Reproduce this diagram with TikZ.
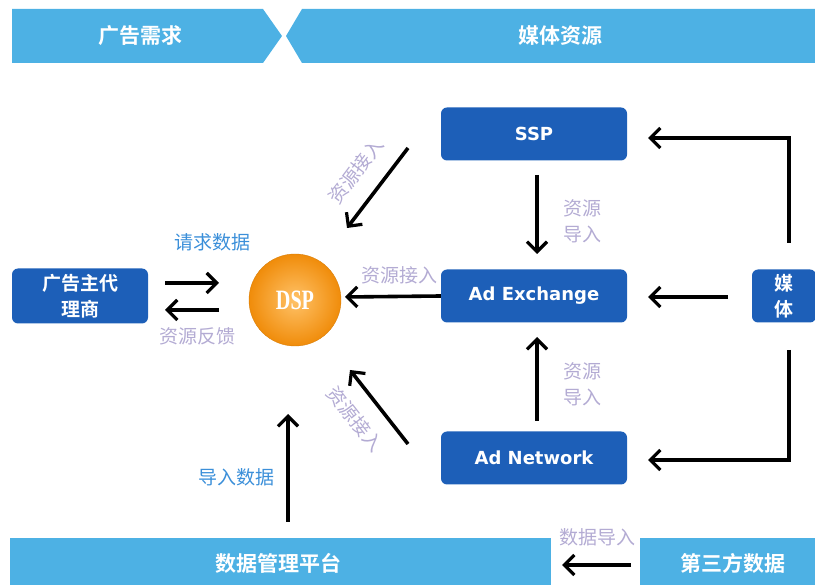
\documentclass[tikz,border=0pt]{standalone}
\usepackage{fontspec}
\setmainfont{Noto Sans CJK SC}
\newfontfamily\cjkb{Noto Sans CJK SC Bold}
\newfontfamily\latb{DejaVu Sans}
\newfontfamily\serifb{Liberation Serif}
\usetikzlibrary{arrows.meta,shapes.geometric,shadows}
\definecolor{banner}{HTML}{4DB1E4}
\definecolor{boxblue}{HTML}{1D5FB8}
\definecolor{lblpurple}{HTML}{B3ABD3}
\definecolor{lblblue}{HTML}{3B8FD9}
\definecolor{dspin}{HTML}{FFC268}
\definecolor{dspout}{HTML}{F08C0A}
\tikzset{
  bluebox/.style={fill=boxblue, rounded corners=6pt, text=white, font=\cjkb\fontsize{19}{26}\selectfont, align=center, inner sep=0pt},
  latbox/.style={bluebox, font=\latb\bfseries\fontsize{18}{21}\selectfont},
  bannertext/.style={text=white, font=\cjkb\fontsize{21}{24}\selectfont},
  arr/.style={draw=black, line width=3.6pt, -{Straight Barb[length=10pt,width=20pt,line width=3.2pt]}},
  plbl/.style={text=lblpurple, font=\fontsize{19}{26}\selectfont, inner sep=0pt},
  blbl/.style={text=lblblue, font=\fontsize{19}{26}\selectfont, inner sep=0pt},
}
\begin{document}
\begin{tikzpicture}[x=1pt,y=-1pt]
\useasboundingbox (0,0) rectangle (815,585);
% top banners
\fill[banner] (12,9) -- (263,9) -- (282,36) -- (263,63) -- (12,63) -- cycle;
\fill[banner] (302,9) -- (815,9) -- (815,63) -- (302,63) -- (286,36) -- cycle;
\node[bannertext] (bL) at (140,36) {广告需求};
\node[bannertext] (bR) at (560,36) {媒体资源};
% bottom bars
\fill[banner] (10,538) rectangle (551,585);
\fill[banner] (640,538) rectangle (815,585);
\node[bannertext] (dmp) at (278,563) {数据管理平台};
\node[bannertext] (third) at (733,563) {第三方数据};
% boxes
\node[latbox, minimum width=186pt, minimum height=53pt] (ssp) at (534,134) {SSP};
\node[latbox, minimum width=186pt, minimum height=53pt] (adx) at (534,296) {Ad Exchange};
\node[latbox, minimum width=186pt, minimum height=53pt] (adn) at (534,458) {Ad Network};
\node[bluebox, minimum width=64pt, minimum height=53pt] (media) at (784,296) {媒\\体};
\node[bluebox, minimum width=136pt, minimum height=55pt] (agent) at (80,296) {广告主代\\理商};
% DSP
\node[circle, minimum size=92pt, inner sep=0pt, shading=radial, inner color=dspin, outer color=dspout, draw=dspout!90!black, line width=0.4pt, text=white, font=\serifb\bfseries\fontsize{28}{30}\selectfont] (dsp) at (295,300) {\scalebox{0.72}[1]{DSP}};
% coordinates
\coordinate (a1s) at (165,283); \coordinate (a1e) at (219,283);
\coordinate (a2s) at (219,310); \coordinate (a2e) at (165,310);
\coordinate (sspd) at (408,148); \coordinate (sspde) at (347,228);
\coordinate (adnd) at (408,444); \coordinate (adnde) at (350,370);
\coordinate (adxe) at (345,297);
\coordinate (v1s) at (537,175); \coordinate (v1e) at (537,254);
\coordinate (v2s) at (537,421); \coordinate (v2e) at (537,337);
\coordinate (m1s) at (789,243); \coordinate (m1c) at (789,138); \coordinate (m1e) at (648,138);
\coordinate (m2s) at (728,297); \coordinate (m2e) at (648,297);
\coordinate (m3s) at (789,350); \coordinate (m3c) at (789,460); \coordinate (m3e) at (648,460);
\coordinate (ups) at (288,522); \coordinate (upe) at (288,414);
\coordinate (ts) at (631,565); \coordinate (te) at (562,565);
% arrows
\draw[arr] (a1s) -- (a1e);
\draw[arr] (a2s) -- (a2e);
\draw[arr] (adx.west) -- (adxe);
\draw[arr] (sspd) -- (sspde);
\draw[arr] (adnd) -- (adnde);
\draw[arr] (v1s) -- (v1e);
\draw[arr] (v2s) -- (v2e);
\draw[arr] (m1s) -- (m1c) -- (m1e);
\draw[arr] (m2s) -- (m2e);
\draw[arr] (m3s) -- (m3c) -- (m3e);
\draw[arr] (ups) -- (upe);
\draw[arr] (ts) -- (te);
% labels
\node[blbl] (l1) at (212,242) {请求数据};
\node[plbl] (l2) at (197,336) {资源反馈};
\node[plbl] (l3) at (399,275) {资源接入};
\node[plbl, rotate=53] (l4) at (356,171) {资源接入};
\node[plbl, rotate=-52] (l5) at (355,419) {资源接入};
\node[plbl, align=left] (l6) at (582,221) {资源\\导入};
\node[plbl, align=left] (l7) at (582,384) {资源\\导入};
\node[blbl] (l8) at (236,477) {导入数据};
\node[plbl] (l9) at (597,537) {数据导入};
\end{tikzpicture}
\end{document}
